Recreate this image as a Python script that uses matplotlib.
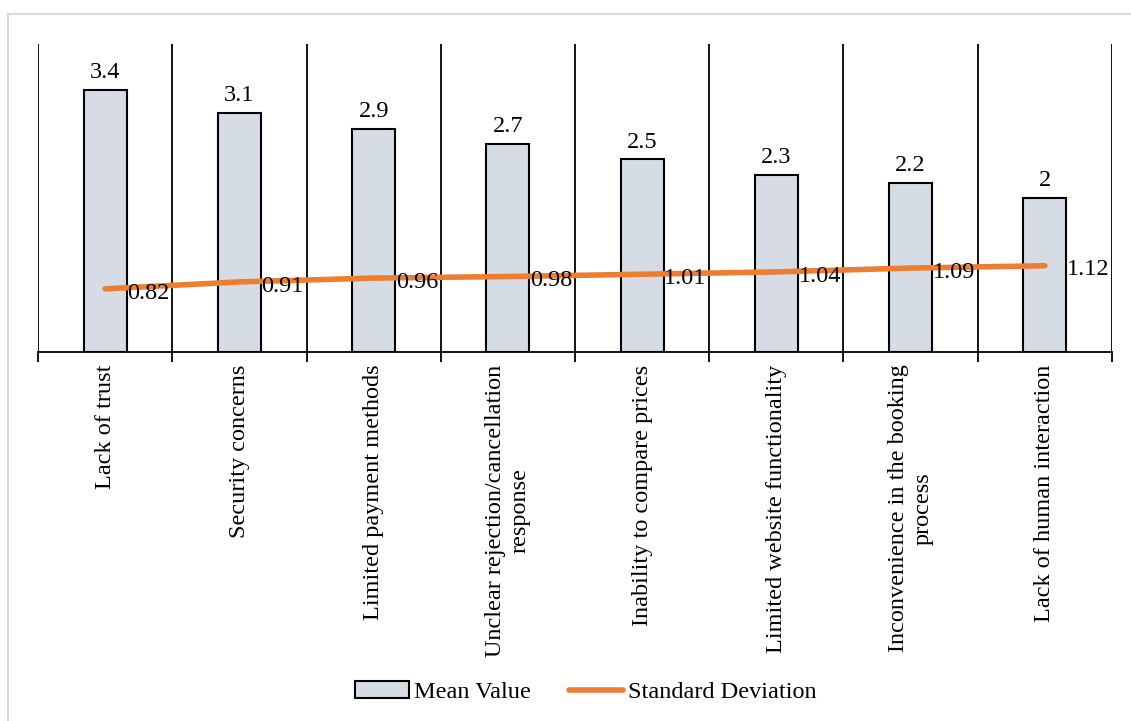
import matplotlib.pyplot as plt
from matplotlib.patches import Rectangle

plt.rcParams['font.family'] = ['Liberation Serif', 'DejaVu Serif']

# Barriers to online booking: mean score and standard deviation
barriers = ['Lack of trust', 'Security concerns', 'Limited payment methods',
            'Unclear rejection/cancellation\nresponse', 'Inability to compare prices',
            'Limited website functionality', 'Inconvenience in the booking\nprocess',
            'Lack of human interaction']
mean_value = [3.4, 3.1, 2.9, 2.7, 2.5, 2.3, 2.2, 2.0]
std_dev = [0.82, 0.91, 0.96, 0.98, 1.01, 1.04, 1.09, 1.12]
mean_labels = ['3.4', '3.1', '2.9', '2.7', '2.5', '2.3', '2.2', '2']
std_labels = ['0.82', '0.91', '0.96', '0.98', '1.01', '1.04', '1.09', '1.12']

fig = plt.figure(figsize=(11.31, 7.21), dpi=100)
ax = fig.add_axes([0.0336, 0.5118, 0.9496, 0.4272])

# light grey frame round the whole chart
fig.patches.append(Rectangle((0.007, -0.01), 1.0, 0.99, transform=fig.transFigure,
                             fill=False, edgecolor='#D9D9D9', linewidth=1.5))

x = list(range(len(barriers)))
bars = ax.bar(x, mean_value, width=0.32, color='#D6DCE5', edgecolor='black',
              linewidth=1.5, label='Mean Value', zorder=2)
line, = ax.plot(x, std_dev, color='#ED7D31', linewidth=4, solid_capstyle='round',
                label='Standard Deviation', zorder=3)

fs = 17.5
for xi, v, lab in zip(x, mean_value, mean_labels):
    ax.annotate(lab, (xi, v), xytext=(0, 5), textcoords='offset points',
                ha='center', va='bottom', fontsize=fs)
for xi, v, lab in zip(x, std_dev, std_labels):
    ax.annotate(lab, (xi, v), xytext=(16, -3), textcoords='offset points',
                ha='left', va='center', fontsize=fs, zorder=4)

# vertical separators between categories
for b in [i - 0.5 for i in range(len(barriers) + 1)]:
    ax.axvline(b, color='black', linewidth=1.3, zorder=1)

ax.set_xlim(-0.5, len(barriers) - 0.5)
ax.set_ylim(0, 4)
ax.set_yticks([])
for s in ['top', 'right', 'left']:
    ax.spines[s].set_visible(False)
ax.spines['bottom'].set_linewidth(1.3)

ax.set_xticks([i - 0.5 for i in range(len(barriers) + 1)])
ax.set_xticklabels([])
ax.tick_params(axis='x', length=7, width=1.3, direction='out')
ax.set_xticks(x, minor=True)
ax.set_xticklabels(barriers, minor=True, rotation=90, fontsize=fs,
                   multialignment='center')
ax.tick_params(axis='x', which='minor', length=0, pad=9)

ax.legend(handles=[bars, line], loc='center', bbox_to_anchor=(0.51, -1.105),
          ncol=2, frameon=False, fontsize=fs, handlelength=2.2,
          handletextpad=0.2, columnspacing=1.6)

fig.savefig('out.png', dpi=100)
